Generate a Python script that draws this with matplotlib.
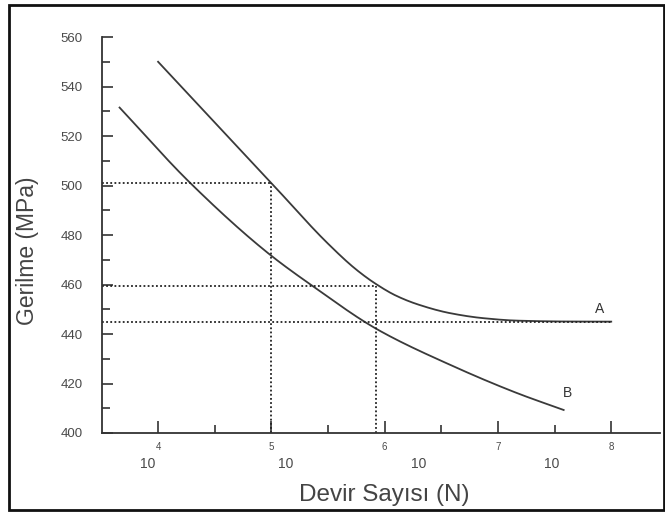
import matplotlib.pyplot as plt
import matplotlib.transforms as mtransforms
from matplotlib.patches import Rectangle
import numpy as np

plt.rcParams['font.family'] = ['Liberation Sans', 'DejaVu Sans']

# log10(N) and stress (MPa)
a_logn = [4.0, 5.0, 5.5, 5.75, 5.93, 6.1, 6.29, 6.58, 6.87, 7.17, 7.6, 8.0]
a_mpa = [550.0, 501.0, 476.5, 466.0, 460.0, 455.5, 452.0, 448.4, 446.4, 445.4, 445.05, 445.0]
b_logn = [3.66, 4.28, 4.97, 5.37, 5.93, 6.58, 7.17, 7.58]
b_mpa = [531.5, 501.2, 472.7, 459.2, 442.0, 427.5, 416.1, 409.3]

# guide lines: (log N at the curve, stress)
guide_logn = [5.0, 5.92, 8.0]
guide_mpa = [501.2, 459.5, 445]

y_ticks = [400, 420, 440, 460, 480, 500, 520, 540, 560]
x_exps = [4, 5, 6, 7, 8]
ten_pos = [3.91, 5.13, 6.30, 7.47]

fig = plt.figure(figsize=(6.65, 5.12), dpi=100)
ax = fig.add_axes([0.1534, 0.1543, 0.839, 0.7734])


def smooth(xs, ys, n=300):
    # monotone cubic Hermite through the read points
    xs = np.asarray(xs, float)
    ys = np.asarray(ys, float)
    t = np.linspace(xs[0], xs[-1], n)
    h = np.diff(xs)
    d = np.diff(ys) / h
    m = np.zeros_like(ys)
    m[0], m[-1] = d[0], d[-1]
    for i in range(1, len(xs) - 1):
        if d[i - 1] * d[i] <= 0:
            m[i] = 0
        else:
            w1 = 2 * h[i] + h[i - 1]
            w2 = h[i] + 2 * h[i - 1]
            m[i] = (w1 + w2) / (w1 / d[i - 1] + w2 / d[i])
    out = np.empty_like(t)
    for j, tt in enumerate(t):
        k = min(max(np.searchsorted(xs, tt) - 1, 0), len(xs) - 2)
        s = (tt - xs[k]) / h[k]
        h00 = 2 * s**3 - 3 * s**2 + 1
        h10 = s**3 - 2 * s**2 + s
        h01 = -2 * s**3 + 3 * s**2
        h11 = s**3 - s**2
        out[j] = h00 * ys[k] + h10 * h[k] * m[k] + h01 * ys[k + 1] + h11 * h[k] * m[k + 1]
    return 10 ** t, out


ax.set_xscale('log')
xa, ya = smooth(a_logn, a_mpa)
xb, yb = smooth(b_logn, b_mpa)
ax.plot(xa, ya, color='#3a3a3a', lw=1.3)
ax.plot(xb, yb, color='#3a3a3a', lw=1.3)

dots = (0, (1.0, 1.3))
x0 = 10 ** 3.505
for lg, mp in zip(guide_logn, guide_mpa):
    ax.plot([x0, 10 ** lg], [mp, mp], color='#222222', lw=1.3, ls=dots)
for lg, mp in zip(guide_logn[:2], guide_mpa[:2]):
    ax.plot([10 ** lg, 10 ** lg], [400, mp], color='#222222', lw=1.3, ls=dots)

ax.text(10 ** 7.90, 450.2, 'A', fontsize=10, color='#333333', ha='center', va='center')
ax.text(10 ** 7.61, 416.2, 'B', fontsize=10, color='#333333', ha='center', va='center')

ax.set_xlim(10 ** 3.505, 10 ** 8.43)
ax.set_ylim(400, 560)
for s in ['top', 'right']:
    ax.spines[s].set_visible(False)
for s in ['left', 'bottom']:
    ax.spines[s].set_color('#333333')
    ax.spines[s].set_linewidth(1.3)

ax.set_yticks(y_ticks)
ax.set_yticks(np.arange(410, 560, 20), minor=True)
ax.tick_params(axis='y', which='major', direction='in', length=8, width=1.2,
               colors='#333333', labelsize=9.5, pad=14, labelcolor='#4a4a4a')
ax.tick_params(axis='y', which='minor', direction='in', length=6, width=1.2, colors='#333333')

ax.set_xticks([10.0 ** e for e in x_exps])
ax.set_xticks([10.0 ** (e + 0.5) for e in x_exps[:-1]], minor=True)
ax.set_xticklabels([])
ax.set_xticklabels([], minor=True)
ax.tick_params(axis='x', which='major', direction='in', length=9, width=1.2, colors='#333333')
ax.tick_params(axis='x', which='minor', direction='in', length=6, width=1.2, colors='#333333')

trans = mtransforms.blended_transform_factory(ax.transData, ax.transAxes)
for e in x_exps:
    ax.text(10.0 ** e, -0.035, str(e), transform=trans, fontsize=7, color='#4a4a4a',
            ha='center', va='center')
for p in ten_pos:
    ax.text(10.0 ** p, -0.078, '10', transform=trans, fontsize=10, color='#4a4a4a',
            ha='center', va='center')

fig.text(0.578, 0.033, 'Devir Sayısı (N)', fontsize=17.5, color='#444444', ha='center', va='center')
fig.text(0.042, 0.51, 'Gerilme (MPa)', fontsize=16.5, color='#444444', ha='center', va='center',
         rotation=90)

fig.patches.append(Rectangle((0.014, 0.003), 0.984, 0.987, transform=fig.transFigure,
                             fill=False, edgecolor='#111111', lw=2))

fig.savefig('out.png', dpi=100)
